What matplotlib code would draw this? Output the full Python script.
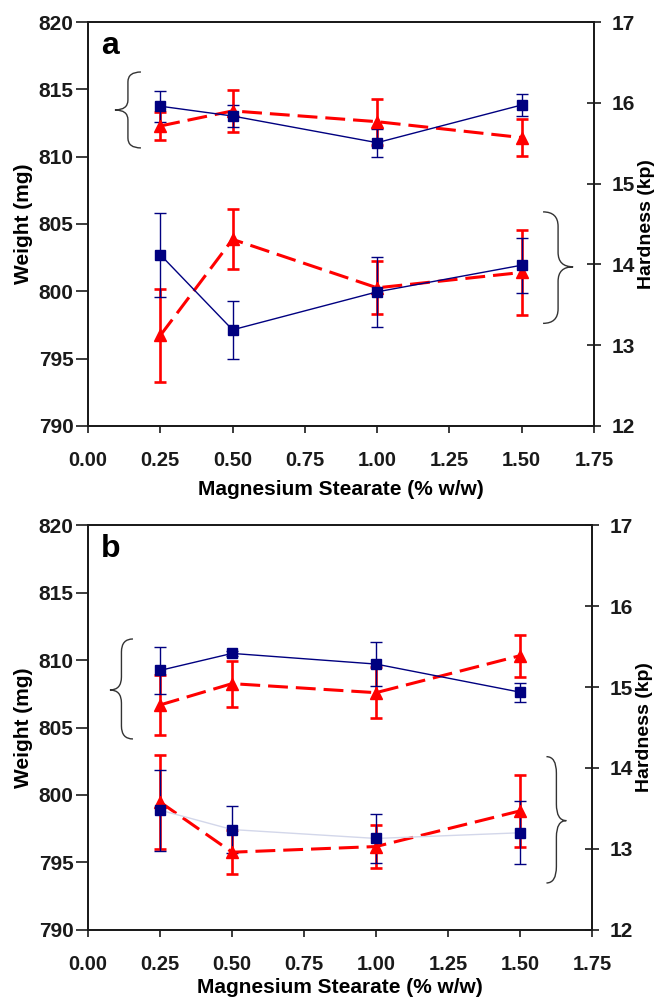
import numpy as np
import matplotlib
matplotlib.use("Agg")
import matplotlib.pyplot as plt
from matplotlib.path import Path
from matplotlib.patches import PathPatch

plt.rcParams['font.family'] = ['Liberation Sans', 'DejaVu Sans']
plt.rcParams['font.weight'] = 'bold'
plt.rcParams['axes.labelweight'] = 'bold'

# Magnesium stearate levels (% w/w)
mg_stearate = [0.25, 0.50, 1.00, 1.50]

# panel a - weight (mg), left axis
a_wt_blue = [813.75, 813.02, 811.04, 813.84]
a_wt_blue_err = [1.15, 0.80, 1.04, 0.80]
a_wt_red = [812.28, 813.40, 812.60, 811.42]
a_wt_red_err = [1.04, 1.57, 1.70, 1.39]
# panel a - hardness (kp), right axis
a_hd_blue = [14.12, 13.19, 13.66, 13.99]
a_hd_blue_err = [0.52, 0.36, 0.43, 0.34]
a_hd_red = [13.12, 14.31, 13.71, 13.90]
a_hd_red_err = [0.58, 0.37, 0.33, 0.53]

# panel b - weight (mg), left axis
b_wt_blue = [809.23, 810.49, 809.70, 807.62]
b_wt_blue_err = [1.73, 0.20, 1.60, 0.70]
b_wt_red = [806.67, 808.25, 807.58, 810.32]
b_wt_red_err = [2.20, 1.70, 1.90, 1.55]
# panel b - hardness (kp), right axis
b_hd_blue = [13.48, 13.24, 13.13, 13.20]
b_hd_blue_err = [0.50, 0.29, 0.30, 0.39]
b_hd_red = [13.58, 12.96, 13.03, 13.47]
b_hd_red_err = [0.58, 0.27, 0.27, 0.44]

x_ticks = [0.00, 0.25, 0.50, 0.75, 1.00, 1.25, 1.50, 1.75]
wt_ticks = [790, 795, 800, 805, 810, 815, 820]
hd_ticks = [12, 13, 14, 15, 16, 17]

NAVY = '#000080'
RED = '#ff0000'
INK = '#1a1a1a'


def brace(ax, x_tip, x_end, y0, y1, y_tip):
    """curly brace, tip at x_tip, arms ending at x_end"""
    xs = x_tip + 0.5 * (x_end - x_tip)
    r = 0.13 * (y1 - y0)
    verts = [(x_end, y1), (xs, y1), (xs, y1 - r),
             (xs, y_tip + r),
             (xs, y_tip), (x_tip, y_tip),
             (xs, y_tip), (xs, y_tip - r),
             (xs, y0 + r),
             (xs, y0), (x_end, y0)]
    codes = [Path.MOVETO, Path.CURVE3, Path.CURVE3,
             Path.LINETO,
             Path.CURVE3, Path.CURVE3,
             Path.CURVE3, Path.CURVE3,
             Path.LINETO,
             Path.CURVE3, Path.CURVE3]
    ax.add_patch(PathPatch(Path(verts, codes), fill=False, lw=1.0,
                           ec='#333333', clip_on=False))


def draw_panel(ax, letter, wt_blue, wt_blue_err, wt_red, wt_red_err,
               hd_blue, hd_blue_err, hd_red, hd_red_err, low_blue_color,
               braces, xlabel_pad):
    ax2 = ax.twinx()

    red_kw = dict(color=RED, lw=2.2, dashes=(6.5, 2.6), marker='^', ms=8.5,
                  ecolor=RED, elinewidth=1.9, capsize=4, capthick=1.9)
    blue_kw = dict(marker='s', ms=7.5, mfc=NAVY, mec=NAVY,
                   ecolor=NAVY, elinewidth=1.0, capsize=4, capthick=1.0)

    ax.errorbar(mg_stearate, wt_red, yerr=wt_red_err, **red_kw)
    ax.errorbar(mg_stearate, wt_blue, yerr=wt_blue_err, color=NAVY, lw=1.0,
                **blue_kw)
    ax2.errorbar(mg_stearate, hd_red, yerr=hd_red_err, **red_kw)
    ax2.errorbar(mg_stearate, hd_blue, yerr=hd_blue_err, color=low_blue_color,
                 lw=1.0, **blue_kw)

    ax.set_xlim(0, 1.75)
    ax.set_ylim(790, 820)
    ax2.set_ylim(12, 17)
    ax.set_xticks(x_ticks)
    ax.set_xticklabels([f"{v:.2f}" for v in x_ticks])
    ax.set_yticks(wt_ticks)
    ax2.set_yticks(hd_ticks)

    for a in (ax, ax2):
        for s in a.spines.values():
            s.set_linewidth(1.3)
            s.set_color(INK)
    ax.tick_params(axis='x', direction='out', length=5, width=1.2, pad=13,
                   labelsize=14.5, colors=INK)
    ax.tick_params(axis='y', direction='out', length=9, width=1.2, pad=1.5,
                   labelsize=15, colors=INK)
    ax2.tick_params(axis='y', direction='inout', length=10, width=1.2, pad=8,
                    labelsize=15, colors=INK)

    ax.set_xlabel('Magnesium Stearate (% w/w)', fontsize=15,
                  fontweight='bold', labelpad=xlabel_pad)
    ax.set_ylabel('Weight (mg)', fontsize=15, fontweight='bold')
    ax.yaxis.set_label_coords(-0.109, 0.5)
    ax2.set_ylabel('Hardness (kp)', fontsize=14, fontweight='bold')
    ax2.yaxis.set_label_coords(1.087, 0.5)

    ax.text(0.025, 0.94, letter, transform=ax.transAxes, fontsize=23,
            fontweight='bold', ha='left', va='center')

    (l_tip, l_end, l_y0, l_y1, l_ym), (r_tip, r_end, r_y0, r_y1, r_ym) = braces
    brace(ax, l_tip, l_end, l_y0, l_y1, l_ym)
    brace(ax2, r_tip, r_end, r_y0, r_y1, r_ym)


fig = plt.figure(figsize=(6.57, 10.02), dpi=100)
ax_a = fig.add_axes([0.134, 0.5749, 0.770, 0.4031])
ax_b = fig.add_axes([0.134, 0.0719, 0.767, 0.4041])

draw_panel(ax_a, 'a', a_wt_blue, a_wt_blue_err, a_wt_red, a_wt_red_err,
           a_hd_blue, a_hd_blue_err, a_hd_red, a_hd_red_err, NAVY,
           ((0.093, 0.183, 810.65, 816.29, 813.47),
            (1.678, 1.574, 13.27, 14.65, 13.97)), 7)
draw_panel(ax_b, 'b', b_wt_blue, b_wt_blue_err, b_wt_red, b_wt_red_err,
           b_hd_blue, b_hd_blue_err, b_hd_red, b_hd_red_err, '#d3d7ea',
           ((0.076, 0.156, 804.15, 811.56, 807.78),
            (1.661, 1.592, 12.58, 14.14, 13.35)), 3)

fig.savefig('out.png', dpi=100)
